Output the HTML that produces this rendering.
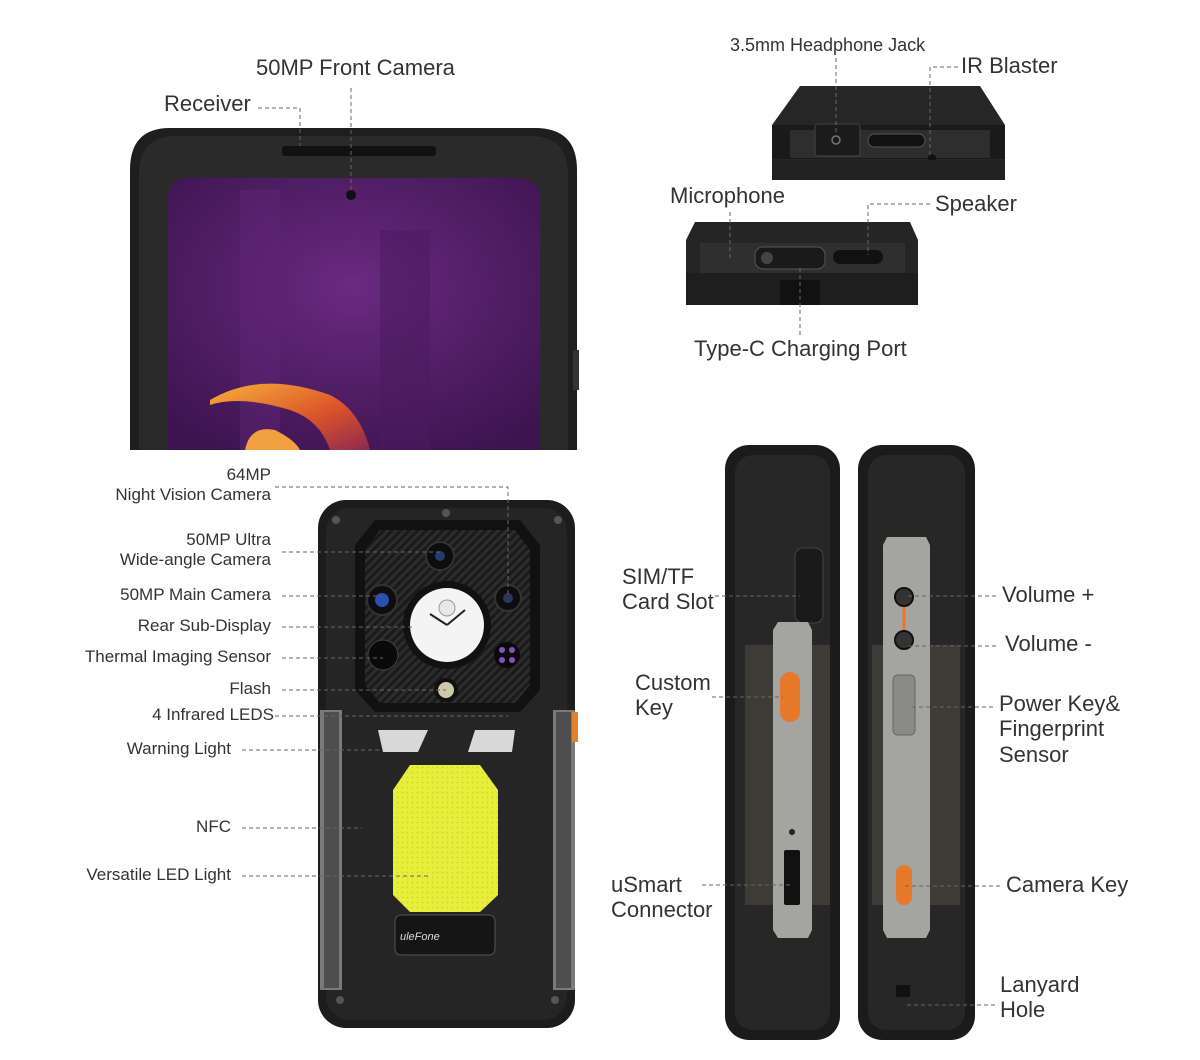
<!DOCTYPE html>
<html><head><meta charset="utf-8">
<style>
html,body{margin:0;padding:0;background:#fff;}
body{width:1200px;height:1060px;position:relative;overflow:hidden;font-family:"Liberation Sans",sans-serif;color:#333;}
.t{position:absolute;white-space:nowrap;line-height:1.15;}
.s{font-size:17px;line-height:1.15;}
.m{font-size:22px;line-height:1.15;}
.r{text-align:right;}
</style></head><body>
<svg width="1200" height="1060" style="position:absolute;left:0;top:0">
<defs>
<radialGradient id="pur" cx="0.5" cy="0.4" r="0.7"><stop offset="0" stop-color="#6a2a80"/><stop offset="1" stop-color="#3d1450"/></radialGradient>
<linearGradient id="hr" x1="0" y1="0" x2="1" y2="1"><stop offset="0" stop-color="#f7b03a"/><stop offset="0.6" stop-color="#d9502a"/><stop offset="1" stop-color="#8a2a50"/></linearGradient>
<pattern id="cf" width="6" height="6" patternUnits="userSpaceOnUse" patternTransform="rotate(45)"><rect width="6" height="6" fill="#1a1a1a"/><rect width="3" height="6" fill="#2c2c2c"/></pattern>
<pattern id="dots" width="5" height="5" patternUnits="userSpaceOnUse"><rect width="5" height="5" fill="#e6ef3a"/><circle cx="2.5" cy="2.5" r="0.8" fill="#c9d22a"/></pattern>
</defs>
<!-- front phone -->
<path d="M170 128 H535 Q577 128 577 170 V450 H130 V170 Q130 128 170 128Z" fill="#1e1e1e"/>
<path d="M176 136 H530 Q568 136 568 174 V450 H139 V174 Q139 136 176 136Z" fill="#2a2a2a"/>
<rect x="282" y="146" width="154" height="10" rx="3" fill="#111"/>
<path d="M190 178 H518 Q540 178 540 200 V450 H168 V200 Q168 178 190 178Z" fill="url(#pur)"/>
<rect x="240" y="190" width="40" height="260" fill="#5e2474" opacity="0.5"/>
<rect x="380" y="230" width="50" height="220" fill="#4a1a5e" opacity="0.5"/>
<path d="M210 400 Q260 370 330 395 Q360 410 370 450 H330 Q320 420 290 410 Q240 395 210 405Z" fill="url(#hr)"/>
<path d="M245 450 Q250 425 275 430 Q295 440 300 450Z" fill="#f0a040"/>
<circle cx="351" cy="195" r="5" fill="#111"/>
<rect x="573" y="350" width="6" height="40" fill="#333"/>
<!-- top device 1 -->
<path d="M800 86 H980 L1005 125 V180 H772 V125Z" fill="#262626"/>
<rect x="772" y="125" width="233" height="34" fill="#1a1a1a"/>
<rect x="790" y="130" width="200" height="28" fill="#2e2e2e"/>
<rect x="815" y="124" width="45" height="32" rx="3" fill="#1b1b1b" stroke="#444"/>
<circle cx="836" cy="140" r="4" fill="none" stroke="#777" stroke-width="1.5"/>
<rect x="868" y="134" width="57" height="13" rx="6.5" fill="#111" stroke="#555"/>
<circle cx="932" cy="158" r="4" fill="#111"/>
<rect x="772" y="160" width="233" height="20" fill="#222"/>
<!-- top device 2 -->
<path d="M695 222 H910 L918 240 V305 H686 V240Z" fill="#252525"/>
<rect x="700" y="243" width="205" height="30" fill="#2f2f2f"/>
<rect x="755" y="247" width="70" height="22" rx="8" fill="#1a1a1a" stroke="#555"/>
<circle cx="767" cy="258" r="6" fill="#444"/>
<rect x="833" y="250" width="50" height="14" rx="7" fill="#111"/>
<rect x="686" y="273" width="232" height="32" fill="#1e1e1e"/>
<rect x="780" y="280" width="40" height="25" fill="#111"/>
<!-- back phone -->
<rect x="318" y="500" width="257" height="528" rx="28" fill="#1c1c1c"/>
<rect x="326" y="508" width="241" height="512" rx="24" fill="#252525"/>
<path d="M320 710 H342 V990 H320Z" fill="#7a7a7a"/>
<path d="M553 710 H575 V990 H553Z" fill="#7a7a7a"/>
<path d="M324 712 H339 V988 H324Z" fill="#4e4e4e"/>
<path d="M556 712 H571 V988 H556Z" fill="#4e4e4e"/>
<rect x="572" y="712" width="6" height="30" fill="#e0832c"/>
<path d="M375 520 H520 L540 545 V690 L520 712 H375 L355 690 V545Z" fill="#111"/>
<path d="M380 530 H515 L530 550 V685 L515 703 H380 L365 685 V550Z" fill="url(#cf)"/>
<circle cx="447" cy="625" r="44" fill="#111"/>
<circle cx="447" cy="625" r="37" fill="#f4f4f4"/>
<circle cx="447" cy="608" r="8" fill="#e8e8e8" stroke="#999"/>
<line x1="447" y1="625" x2="430" y2="614" stroke="#222" stroke-width="2"/>
<line x1="447" y1="625" x2="465" y2="610" stroke="#222" stroke-width="2"/>
<circle cx="440" cy="556" r="14" fill="#0d0d0d" stroke="#333" stroke-width="2"/><circle cx="440" cy="556" r="5" fill="#243a70"/>
<circle cx="382" cy="600" r="15" fill="#0d0d0d" stroke="#333" stroke-width="2"/><circle cx="382" cy="600" r="7" fill="#2a4fb0"/>
<circle cx="508" cy="598" r="13" fill="#0d0d0d" stroke="#333" stroke-width="2"/><circle cx="508" cy="598" r="5" fill="#2a3860"/>
<circle cx="383" cy="655" r="15" fill="#0a0a0a" stroke="#444"/>
<circle cx="507" cy="655" r="13" fill="#0a0a0a"/>
<circle cx="502" cy="650" r="3" fill="#8a50c0"/><circle cx="512" cy="650" r="3" fill="#8a50c0"/><circle cx="502" cy="660" r="3" fill="#8a50c0"/><circle cx="512" cy="660" r="3" fill="#8a50c0"/>
<circle cx="446" cy="690" r="12" fill="#111"/><circle cx="446" cy="690" r="8" fill="#cfc9a8"/>
<path d="M378 730 H428 L418 752 H383Z" fill="#d8d8d8"/>
<path d="M468 752 L475 730 H515 L512 752Z" fill="#d8d8d8"/>
<path d="M410 765 H480 L498 790 V895 L480 912 H410 L393 895 V790Z" fill="url(#dots)"/>
<rect x="395" y="915" width="100" height="40" rx="6" fill="#151515" stroke="#555"/>
<text x="400" y="940" fill="#ddd" font-size="11" font-style="italic" font-family="Liberation Sans">uleFone</text>
<circle cx="336" cy="520" r="4" fill="#555"/><circle cx="558" cy="520" r="4" fill="#555"/><circle cx="446" cy="513" r="4" fill="#555"/>
<circle cx="340" cy="1000" r="4" fill="#555"/><circle cx="555" cy="1000" r="4" fill="#555"/>
<!-- side left -->
<rect x="725" y="445" width="115" height="595" rx="24" fill="#1b1b1b"/>
<rect x="735" y="455" width="95" height="575" rx="18" fill="#272727"/>
<rect x="795" y="548" width="28" height="75" rx="8" fill="#1a1a1a" stroke="#444"/>
<path d="M745 645 H830 V905 H745Z" fill="#3c3b34"/>
<path d="M778 622 H808 L812 630 V930 L808 938 H778 L773 930 V630Z" fill="#a4a4a0"/>
<rect x="780" y="672" width="20" height="50" rx="10" fill="#e8782c"/>
<rect x="784" y="850" width="16" height="55" rx="2" fill="#111"/>
<circle cx="792" cy="832" r="3" fill="#222"/>
<!-- side right -->
<rect x="858" y="445" width="117" height="595" rx="24" fill="#1b1b1b"/>
<rect x="868" y="455" width="97" height="575" rx="18" fill="#272727"/>
<path d="M872 645 H960 V905 H872Z" fill="#3c3b34"/>
<path d="M887 537 H926 L930 545 V930 L926 938 H887 L883 930 V545Z" fill="#a4a4a0"/>
<line x1="904" y1="597" x2="904" y2="640" stroke="#e8782c" stroke-width="3"/>
<circle cx="904" cy="597" r="9" fill="#333" stroke="#111" stroke-width="2"/>
<circle cx="904" cy="640" r="9" fill="#333" stroke="#111" stroke-width="2"/>
<rect x="893" y="675" width="22" height="60" rx="5" fill="#8a8a86" stroke="#666"/>
<rect x="896" y="865" width="16" height="40" rx="8" fill="#e8782c"/>
<rect x="896" y="985" width="14" height="12" fill="#111"/>
<!-- leaders -->
<g stroke="#666" stroke-width="1" stroke-dasharray="4,3" fill="none">
<path d="M351 88 V190"/>
<path d="M258 108 H300 V146"/>
<path d="M836 58 V135"/>
<path d="M958 67 H930 V155"/>
<path d="M730 212 V260"/>
<path d="M930 204 H868 V255"/>
<path d="M800 268 V338"/>
<path d="M275 487 H508 V595"/>
<path d="M282 552 H440"/>
<path d="M282 596 H382"/>
<path d="M282 627 H415"/>
<path d="M282 658 H383"/>
<path d="M282 690 H446"/>
<path d="M275 716 H508"/>
<path d="M242 750 H380"/>
<path d="M242 828 H362"/>
<path d="M242 876 H430"/>
<path d="M715 596 H800"/>
<path d="M712 697 H783"/>
<path d="M702 885 H790"/>
<path d="M996 596 H905"/>
<path d="M996 646 H905"/>
<path d="M993 707 H910"/>
<path d="M1000 886 H905"/>
<path d="M995 1005 H905"/>
</g>
</svg>
<div class="t m" style="left:256px;top:55px">50MP Front Camera</div>
<div class="t m" style="left:164px;top:91px">Receiver</div>
<div class="t" style="left:730px;top:35px;font-size:18px">3.5mm Headphone Jack</div>
<div class="t m" style="left:961px;top:53px">IR Blaster</div>
<div class="t m" style="left:670px;top:183px">Microphone</div>
<div class="t m" style="left:935px;top:191px">Speaker</div>
<div class="t m" style="left:694px;top:336px">Type-C Charging Port</div>
<div class="t s r" style="right:929px;top:465px">64MP<br>Night Vision Camera</div>
<div class="t s r" style="right:929px;top:530px">50MP Ultra<br>Wide-angle Camera</div>
<div class="t s r" style="right:929px;top:585px">50MP Main Camera</div>
<div class="t s r" style="right:929px;top:616px">Rear Sub-Display</div>
<div class="t s r" style="right:929px;top:647px">Thermal Imaging Sensor</div>
<div class="t s r" style="right:929px;top:679px">Flash</div>
<div class="t s r" style="right:926px;top:705px">4 Infrared LEDS</div>
<div class="t s r" style="right:969px;top:739px">Warning Light</div>
<div class="t s r" style="right:969px;top:817px">NFC</div>
<div class="t s r" style="right:969px;top:865px">Versatile LED Light</div>
<div class="t m" style="left:622px;top:564px">SIM/TF<br>Card Slot</div>
<div class="t m" style="left:635px;top:670px">Custom<br>Key</div>
<div class="t m" style="left:611px;top:872px">uSmart<br>Connector</div>
<div class="t m" style="left:1002px;top:582px">Volume +</div>
<div class="t m" style="left:1005px;top:631px">Volume -</div>
<div class="t m" style="left:999px;top:691px">Power Key&amp;<br>Fingerprint<br>Sensor</div>
<div class="t m" style="left:1006px;top:872px">Camera Key</div>
<div class="t m" style="left:1000px;top:972px">Lanyard<br>Hole</div>
</body></html>
